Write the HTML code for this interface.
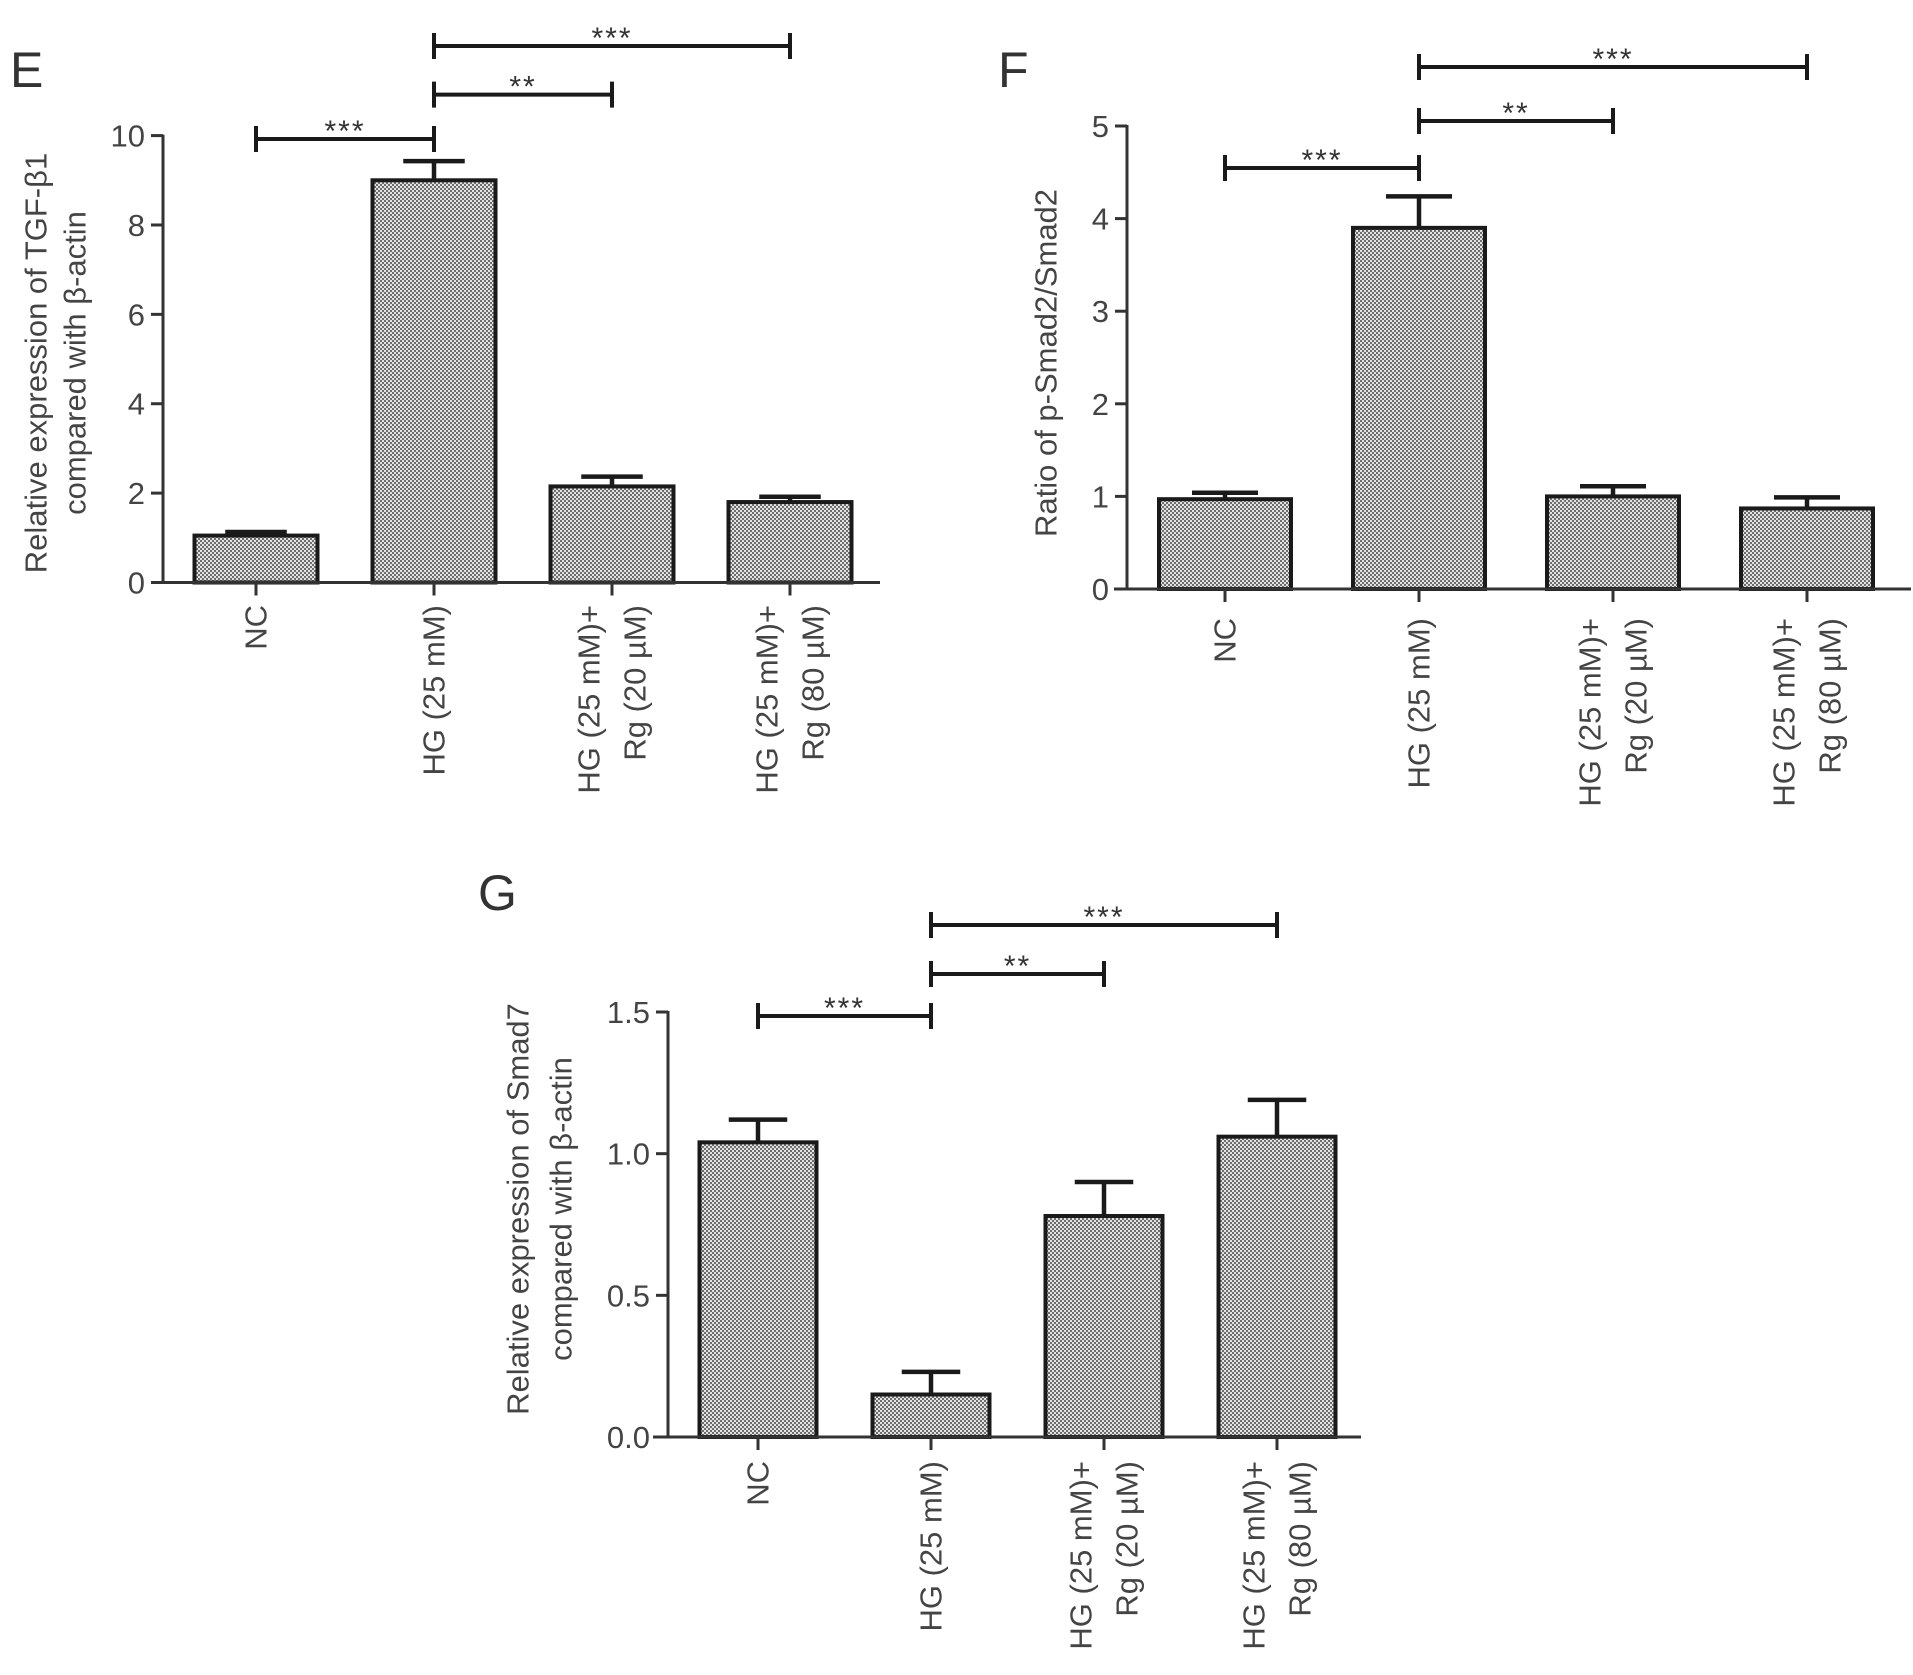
<!DOCTYPE html>
<html><head><meta charset="utf-8"><style>
html,body{margin:0;padding:0;background:#fff;}
svg{display:block;font-family:"Liberation Sans",sans-serif;}
</style></head><body>
<svg id="fig" width="1913" height="1675" viewBox="0 0 1913 1675" xmlns="http://www.w3.org/2000/svg">
<defs>
<pattern id="chk" width="4" height="4" patternUnits="userSpaceOnUse">
<rect width="4" height="4" fill="#e2e2e2"/>
<rect width="2" height="2" fill="#6e6e6e"/>
<rect x="2" y="2" width="2" height="2" fill="#6e6e6e"/>
</pattern>
</defs>
</svg>
<script>
const categories = ["NC", "HG (25 mM)", "HG (25 mM)+|Rg (20 µM)", "HG (25 mM)+|Rg (80 µM)"];
const tgfValues = [1.05, 9.0, 2.15, 1.8];
const tgfErrors = [0.08, 0.43, 0.22, 0.12];
const tgfTicks = [0, 2, 4, 6, 8, 10];
const tgfTickLabels = ["0", "2", "4", "6", "8", "10"];
const smad2Values = [0.97, 3.9, 1.0, 0.87];
const smad2Errors = [0.07, 0.34, 0.11, 0.12];
const smad2Ticks = [0, 1, 2, 3, 4, 5];
const smad2TickLabels = ["0", "1", "2", "3", "4", "5"];
const smad7Values = [1.04, 0.15, 0.78, 1.06];
const smad7Errors = [0.08, 0.08, 0.12, 0.13];
const smad7Ticks = [0, 0.5, 1.0, 1.5];
const smad7TickLabels = ["0.0", "0.5", "1.0", "1.5"];
const sigPairs = [[0, 1], [1, 2], [1, 3]];
const sigLabels = ["***", "**", "***"];

const NS = "http://www.w3.org/2000/svg";
const svg = document.getElementById("fig");
function mk(tag, attrs, parent) {
  const e = document.createElementNS(NS, tag);
  for (const k in attrs) e.setAttribute(k, attrs[k]);
  (parent || svg).appendChild(e);
  return e;
}

function panel(p) {
  const g = mk("g", {});
  
  
  const y = v => p.y0 - (v - p.ticks[0]) / (p.ticks[p.ticks.length - 1] - p.ticks[0]) * (p.y0 - p.yTop);
  const x = i => p.first + i * p.step;
  const stroke = "#1a1a1a";

  const L = mk("text", {x: p.letter[0], y: p.letter[1], "font-size": 50, fill: "#333"}, g);
  L.textContent = p.letterText;
  
  

  p.values.forEach((v, i) => {
    const r = mk("rect", {x: x(i) - p.bw / 2, y: y(v), width: p.bw, height: p.y0 - y(v), fill: "url(#chk)", stroke: stroke, "stroke-width": 4}, g);
    
    
    const top = y(v + p.errors[i]);
    const e = mk("path", {d: `M${x(i)} ${y(v)}V${top}M${x(i)} ${top}H${x(i) + p.bw / 4}M${x(i)} ${top}H${x(i) - p.bw / 4}`, stroke: stroke, "stroke-width": 4.5, fill: "none"}, g);
    
    
  });

  const ya = mk("line", {x1: p.ax, y1: p.y0, x2: p.ax, y2: y(p.ticks[p.ticks.length - 1]) - 1, stroke: "#333", "stroke-width": 3}, g);
  
  
  const xa = mk("line", {x1: p.xl, y1: p.y0, x2: p.xr, y2: p.y0, stroke: "#333", "stroke-width": 3}, g);
  
  
  p.ticks.forEach((t, i) => {
    mk("line", {x1: p.ax - 12, y1: y(t), x2: p.ax, y2: y(t), stroke: "#333", "stroke-width": 3}, g);
    const tl = mk("text", {x: p.ax - 18, y: y(t) + 11, "text-anchor": "end", "font-size": 31, fill: "#444"}, g);
    tl.textContent = p.tickLabels[i];
    
    
  });
  categories.forEach((c, i) => {
    mk("line", {x1: x(i), y1: p.y0, x2: x(i), y2: p.y0 + 13, stroke: "#333", "stroke-width": 3}, g);
    const lines = c.split("|");
    lines.forEach((ln, j) => {
      const cx = lines.length === 1 ? x(i) : x(i) + (j === 0 ? -23 : 23);
      const ty = p.labTop;
      const t = mk("text", {x: 0, y: 0, "text-anchor": "end", "dominant-baseline": "central", "font-size": 31, fill: "#444", transform: `translate(${cx},${ty}) rotate(-90)`}, g);
      t.textContent = ln;
      
      
    });
  });

  p.title.forEach((ln, j) => {
    const t = mk("text", {x: 0, y: 0, "text-anchor": "middle", "dominant-baseline": "central", "font-size": 31, fill: "#444", transform: `translate(${p.titleX[j]},${p.titleY}) rotate(-90)`}, g);
    t.textContent = ln;
    
    
  });

  sigPairs.forEach((pr, k) => {
    const by = p.brackets[k];
    const b = mk("path", {d: `M${x(pr[0])} ${by}H${x(pr[1])}M${x(pr[0])} ${by - 13}V${by + 13}M${x(pr[1])} ${by - 13}V${by + 13}`, stroke: stroke, "stroke-width": 4, fill: "none"}, g);
    
    
    const s = mk("text", {x: (x(pr[0]) + x(pr[1])) / 2, y: by + 2, "text-anchor": "middle", "font-size": 30, fill: "#333", "letter-spacing": "2"}, g);
    s.textContent = sigLabels[k];
    
    
  });
}

panel({id: "tgf", letterText: "E", letter: [10, 87], values: tgfValues, errors: tgfErrors, ticks: tgfTicks, tickLabels: tgfTickLabels,
  y0: 582.5, yTop: 135.6, ax: 163, xl: 151, xr: 880, first: 256, step: 178, bw: 123, labTop: 605,
  title: ["Relative expression of TGF-β1", "compared with β-actin"], titleX: [36, 75], titleY: 363, brackets: [139, 94.6, 46]});
panel({id: "smad2", letterText: "F", letter: [998, 87], values: smad2Values, errors: smad2Errors, ticks: smad2Ticks, tickLabels: smad2TickLabels,
  y0: 589, yTop: 126, ax: 1127, xl: 1114, xr: 1911, first: 1225, step: 194, bw: 132, labTop: 618,
  title: ["Ratio of p-Smad2/Smad2"], titleX: [1046], titleY: 363, brackets: [168, 121, 67]});
panel({id: "smad7", letterText: "G", letter: [478, 910], values: smad7Values, errors: smad7Errors, ticks: smad7Ticks, tickLabels: smad7TickLabels,
  y0: 1437, yTop: 1012, ax: 668, xl: 653, xr: 1361, first: 758, step: 173, bw: 117, labTop: 1461,
  title: ["Relative expression of Smad7", "compared with β-actin"], titleX: [518, 561], titleY: 1209, brackets: [1016, 974, 925]});
</script>
</body></html>
